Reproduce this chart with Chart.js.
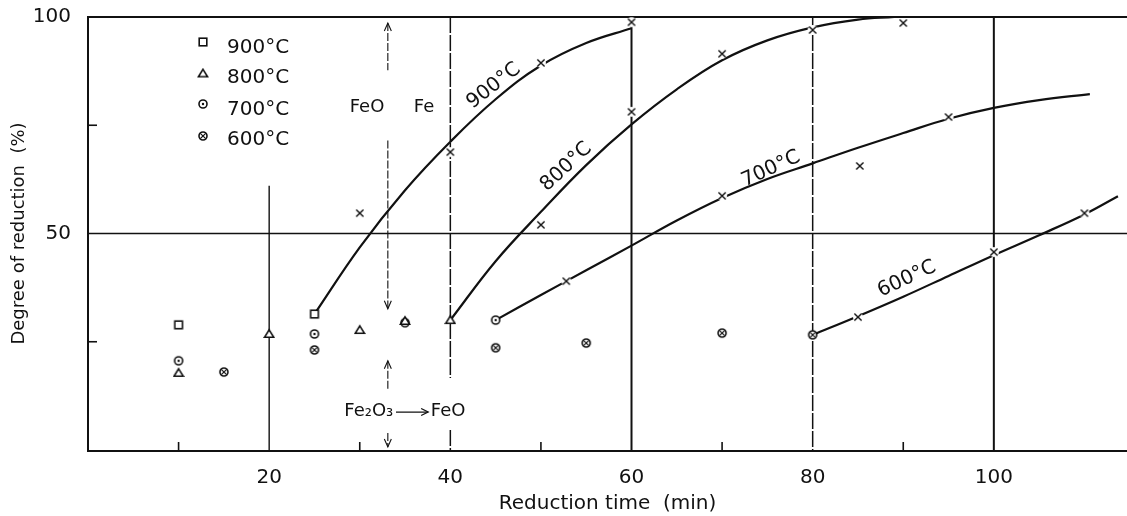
<!DOCTYPE html>
<html><head><meta charset="utf-8">
<script src="https://cdn.jsdelivr.net/npm/chart.js@4"></script>
<style>html,body{margin:0;padding:0;background:#fff}#wrap{width:1127px;height:516px}</style>
</head><body><div id="wrap"><canvas id="c" width="1127" height="516"></canvas></div>
<script>
const FONT = '"DejaVu Sans", sans-serif';
const INK = '#111';

// ---- tick labels ----
const xTickLabels = [20, 40, 60, 80, 100];
const yTickLabels = [50, 100];
const xMinorTicks = [10, 30, 50, 70, 90];
const yMinorTicks = [25, 75];

// ---- legend ----
const seriesNames = ['900°C', '800°C', '700°C', '600°C'];

// ---- open-symbol measurements (time min, degree %) ----
const sq900 = [[10, 28.9], [25, 31.4]];
const tri800 = [[10, 17.8], [20, 26.8], [30, 27.7], [35, 29.8], [40, 30.0]];
const cd700 = [[10, 20.6], [25, 26.8], [35, 29.4], [45, 30.0]];
const cx600 = [[15, 18.0], [25, 23.1], [45, 23.6], [55, 24.7], [70, 27.0], [80, 26.6]];

// ---- x-marked measurements ----
const xm900 = [[30, 54.7], [40, 68.8], [50, 89.4], [60, 98.8]];
const xm800 = [[50, 52.0], [60, 78.1], [70, 91.5], [80, 97.0], [90, 98.6]];
const xm700 = [[52.8, 39.0], [70, 58.7], [85.2, 65.6], [95, 76.9]];
const xm600 = [[85, 30.7], [100, 45.7], [110, 54.7]];

// ---- fitted curves ----
const curve900 = [[25, 31.4], [30, 46.8], [35, 60], [40, 71.2], [45, 81], [50, 88.8], [55, 94], [60, 97.4]];
const curve800 = [[40, 30], [45, 43.6], [50, 55], [55, 65.8], [60, 75.2], [65, 83.3], [70, 90], [75, 94.6], [80, 97.6], [85, 99.4], [89, 100]];
const curve700 = [[45, 30], [50, 35.8], [55, 41.5], [60, 47.2], [65, 53], [70, 58.2], [75, 62.6], [80, 66.2], [85, 69.8], [90, 73.2], [95, 76.5], [100, 79], [105, 80.8], [110.6, 82.2]];
const curve600 = [[80, 26.6], [85, 30.9], [90, 35.4], [95, 40.2], [100, 45.0], [105, 49.6], [110, 54.4], [113.7, 58.6]];

// ---- curve label anchors [text, x, y, angleDeg] ----
const curveLabels = [['900°C', 44.8, 84.1, -38], ['800°C', 52.8, 65.4, -43], ['700°C', 75.4, 64.9, -25], ['600°C', 90.4, 39.5, -25]];

const pts = a => a.map(([x, y]) => ({x, y}));

function mk(size, fn) {
  const c = document.createElement('canvas');
  c.width = c.height = size;
  const g = c.getContext('2d');
  g.strokeStyle = INK; g.fillStyle = '#fff'; g.lineWidth = 1.6;
  fn(g, size / 2);
  return c;
}
const imgSquare = mk(12, (g, c) => { g.fillRect(c - 3.8, c - 3.8, 7.6, 7.6); g.strokeRect(c - 3.8, c - 3.8, 7.6, 7.6); });
const imgTri = mk(12, (g, c) => { g.beginPath(); g.moveTo(c, c - 4.2); g.lineTo(c + 4.6, c + 3.3); g.lineTo(c - 4.6, c + 3.3); g.closePath(); g.fill(); g.stroke(); });
const imgCDot = mk(12, (g, c) => { g.beginPath(); g.arc(c, c, 4, 0, Math.PI * 2); g.fill(); g.stroke(); g.fillStyle = INK; g.beginPath(); g.arc(c, c, 1.2, 0, Math.PI * 2); g.fill(); });
const imgCX = mk(12, (g, c) => { g.beginPath(); g.arc(c, c, 4, 0, Math.PI * 2); g.fill(); g.stroke(); g.lineWidth = 1.2; g.beginPath(); g.moveTo(c - 2.7, c - 2.7); g.lineTo(c + 2.7, c + 2.7); g.moveTo(c + 2.7, c - 2.7); g.lineTo(c - 2.7, c + 2.7); g.stroke(); });
const imgX = mk(14, (g, c) => { g.beginPath(); g.arc(c, c, 5, 0, Math.PI * 2); g.fill(); g.lineWidth = 1.4; g.beginPath(); g.moveTo(c - 3.6, c - 3.6); g.lineTo(c + 3.6, c + 3.6); g.moveTo(c + 3.6, c - 3.6); g.lineTo(c - 3.6, c + 3.6); g.stroke(); });

const lineDs = d => ({data: pts(d), showLine: true, borderColor: INK, borderWidth: 2.2, pointRadius: 0, tension: 0.4, fill: false, order: 2});
const markDs = (d, img) => ({data: pts(d), showLine: false, pointStyle: img, pointRadius: 6, pointHoverRadius: 6, order: 1});

function seg(ctx, x1, y1, x2, y2) { ctx.beginPath(); ctx.moveTo(x1, y1); ctx.lineTo(x2, y2); ctx.stroke(); }
function arrowHead(ctx, x, y, dir) { // dir -1 up, +1 down
  ctx.setLineDash([]);
  ctx.beginPath(); ctx.moveTo(x - 3.5, y - dir * 8); ctx.lineTo(x, y); ctx.lineTo(x + 3.5, y - dir * 8); ctx.stroke();
}

const decor = {
  id: 'decor',
  beforeDatasetsDraw(chart) {
    const {ctx, chartArea: a, scales: {x: xs, y: ys}} = chart;
    const px = v => xs.getPixelForValue(v), py = v => ys.getPixelForValue(v);
    ctx.save();
    ctx.strokeStyle = INK; ctx.fillStyle = INK;
    // frame
    ctx.lineWidth = 2;
    seg(ctx, a.left, a.top, a.right, a.top);
    seg(ctx, a.left, a.top - 1, a.left, a.bottom + 2);
    seg(ctx, a.left - 1, a.bottom + 1, a.right, a.bottom + 1);
    // horizontal 50 line
    ctx.lineWidth = 1.6;
    seg(ctx, a.left, py(50), a.right, py(50));
    // vertical lines
    ctx.lineWidth = 1.4; seg(ctx, px(20), py(61), px(20), a.bottom);
    ctx.lineWidth = 2; seg(ctx, px(60), a.top, px(60), a.bottom);
    seg(ctx, px(100), a.top, px(100), a.bottom);
    ctx.lineWidth = 1.5; ctx.setLineDash([16, 2]);
    seg(ctx, px(40), a.top, px(40), py(16.6));
    seg(ctx, px(40), py(4.6), px(40), a.bottom);
    seg(ctx, px(80), a.top, px(80), a.bottom);
    // minor ticks
    ctx.setLineDash([]); ctx.lineWidth = 1.6;
    xMinorTicks.forEach(v => seg(ctx, px(v), a.bottom, px(v), a.bottom - 8));
    yMinorTicks.forEach(v => seg(ctx, a.left, py(v), a.left + 9, py(v)));
    // phase-boundary arrow line
    const ax = px(33.1);
    ctx.lineWidth = 1.1; ctx.setLineDash([8, 2]);
    seg(ctx, ax, py(98.6), ax, py(87.7)); arrowHead(ctx, ax, py(98.6), -1);
    ctx.setLineDash([8, 2]);
    seg(ctx, ax, py(71.5), ax, py(32.6)); arrowHead(ctx, ax, py(32.6), 1);
    ctx.setLineDash([8, 2]);
    seg(ctx, ax, py(20.6), ax, py(14.1)); arrowHead(ctx, ax, py(20.6), -1);
    ctx.setLineDash([8, 2]);
    seg(ctx, ax, py(3.9), ax, py(0.7)); arrowHead(ctx, ax, py(0.7), 1);
    ctx.setLineDash([]);
    // phase texts
    ctx.font = '18px ' + FONT; ctx.textAlign = 'center'; ctx.textBaseline = 'middle';
    ctx.fillText('FeO', px(30.8), py(79.2));
    ctx.fillText('Fe', px(37.1), py(79.2));
    ctx.fillText('Fe₂O₃', px(31.0), py(9.0));
    ctx.fillText('FeO', px(39.75), py(9.0));
    ctx.lineWidth = 1.3;
    const ay = py(9.0) + 1, x1 = px(34.0), x2 = px(37.55);
    seg(ctx, x1, ay, x2, ay);
    ctx.beginPath(); ctx.moveTo(x2 - 7, ay - 3.5); ctx.lineTo(x2, ay); ctx.lineTo(x2 - 7, ay + 3.5); ctx.stroke();
    // curve labels
    ctx.font = '20px ' + FONT;
    curveLabels.forEach(([t, x, y, ang]) => {
      ctx.save(); ctx.translate(px(x), py(y)); ctx.rotate(ang * Math.PI / 180);
      ctx.fillText(t, 0, 0); ctx.restore();
    });
    // legend
    const imgs = [imgSquare, imgTri, imgCDot, imgCX];
    const my = [25, 56.5, 87, 119], ty = [36, 66, 98, 128];
    ctx.textAlign = 'left'; ctx.textBaseline = 'alphabetic';
    seriesNames.forEach((n, i) => {
      const im = imgs[i];
      ctx.drawImage(im, a.left + 115 - im.width / 2, a.top + my[i] - im.height / 2);
      ctx.fillText(n, a.left + 139, a.top + ty[i]);
    });
    ctx.restore();
  }
};

new Chart(document.getElementById('c'), {
  type: 'scatter',
  data: {
    datasets: [
      lineDs(curve900), lineDs(curve800), lineDs(curve700), lineDs(curve600),
      markDs(sq900, imgSquare), markDs(tri800, imgTri), markDs(cd700, imgCDot), markDs(cx600, imgCX),
      markDs(xm900, imgX), markDs(xm800, imgX), markDs(xm700, imgX), markDs(xm600, imgX)
    ]
  },
  options: {
    responsive: false, devicePixelRatio: 1, animation: false, events: [],
    layout: {autoPadding: false, padding: {top: 17, left: 0, right: 0, bottom: 0}},
    plugins: {legend: {display: false}, tooltip: {enabled: false}},
    scales: {
      x: {
        type: 'linear', min: 0, max: 114.7,
        afterBuildTicks: s => { s.ticks = xTickLabels.map(v => ({value: v})); },
        afterFit: s => { s.height = 66; s.paddingLeft = 0; s.paddingRight = 0; },
        grid: {display: false}, border: {display: false},
        ticks: {color: INK, font: {family: FONT, size: 20}, padding: 8, maxRotation: 0, autoSkip: false},
        title: {display: true, text: 'Reduction time  (min)', color: INK, font: {family: FONT, size: 20}, padding: {top: 0, bottom: 0}}
      },
      y: {
        type: 'linear', min: 0, max: 100,
        afterBuildTicks: s => { s.ticks = yTickLabels.map(v => ({value: v})); },
        afterFit: s => { s.width = 88; s.paddingTop = 0; s.paddingBottom = 0; },
        grid: {display: false}, border: {display: false},
        ticks: {color: INK, font: {family: FONT, size: 20}, padding: 9},
        title: {display: true, text: 'Degree of reduction  (%)', color: INK, font: {family: FONT, size: 18}, padding: {top: 9, bottom: 0}}
      }
    }
  },
  plugins: [decor]
});
</script></body></html>
